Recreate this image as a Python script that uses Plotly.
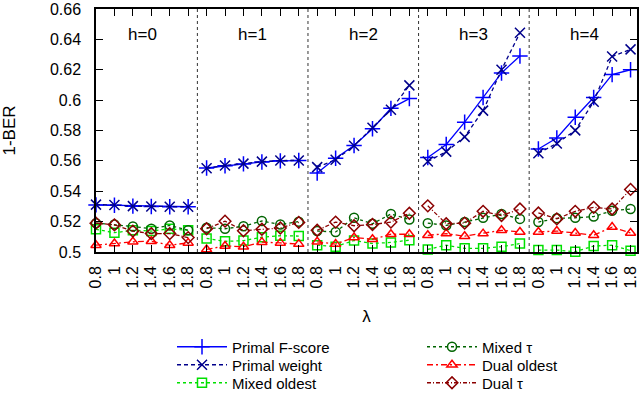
import plotly.graph_objects as go

# ---------------- data ----------------
lambdas = [0.8, 1.0, 1.2, 1.4, 1.6, 1.8]
lambda_labels = ["0.8", "1", "1.2", "1.4", "1.6", "1.8"]
h_labels = ["h=0", "h=1", "h=2", "h=3", "h=4"]

# values listed per h block (h=0..4), each block follows lambdas
primal_fscore = [
    0.5310, 0.5308, 0.5302, 0.5300, 0.5298, 0.5298,
    0.5553, 0.5568, 0.5580, 0.5593, 0.5600, 0.5602,
    0.5520, 0.5617, 0.5701, 0.5812, 0.5946, 0.6010,
    0.5622, 0.5708, 0.5855, 0.6017, 0.6179, 0.6291,
    0.5678, 0.5751, 0.5887, 0.6017, 0.6168, 0.6200,
]
primal_weight = [
    0.5312, 0.5310, 0.5302, 0.5300, 0.5298, 0.5298,
    0.5552, 0.5570, 0.5582, 0.5595, 0.5602, 0.5603,
    0.5559, 0.5607, 0.5700, 0.5818, 0.5937, 0.6097,
    0.5596, 0.5661, 0.5758, 0.5931, 0.6200, 0.6443,
    0.5650, 0.5715, 0.5801, 0.5989, 0.6287, 0.6334,
]
mixed_oldest = [
    0.5149, 0.5127, 0.5143, 0.5138, 0.5153, 0.5143,
    0.5089, 0.5070, 0.5075, 0.5097, 0.5107, 0.5105,
    0.5045, 0.5035, 0.5076, 0.5056, 0.5063, 0.5078,
    0.5017, 0.5045, 0.5024, 0.5024, 0.5035, 0.5056,
    0.5013, 0.5013, 0.5002, 0.5039, 0.5045, 0.5009,
]
mixed_tau = [
    0.5190, 0.5181, 0.5168, 0.5153, 0.5175, 0.5143,
    0.5160, 0.5153, 0.5170, 0.5204, 0.5181, 0.5200,
    0.5138, 0.5132, 0.5225, 0.5186, 0.5250, 0.5214,
    0.5190, 0.5175, 0.5197, 0.5225, 0.5250, 0.5218,
    0.5197, 0.5222, 0.5225, 0.5233, 0.5272, 0.5283,
]
dual_oldest = [
    0.5045, 0.5056, 0.5067, 0.5071, 0.5045, 0.5060,
    0.5017, 0.5040, 0.5035, 0.5065, 0.5060, 0.5052,
    0.5067, 0.5052, 0.5095, 0.5084, 0.5117, 0.5117,
    0.5110, 0.5121, 0.5104, 0.5121, 0.5143, 0.5132,
    0.5132, 0.5138, 0.5125, 0.5110, 0.5164, 0.5125,
]
dual_tau = [
    0.5190, 0.5179, 0.5138, 0.5121, 0.5121, 0.5095,
    0.5153, 0.5203, 0.5140, 0.5150, 0.5158, 0.5195,
    0.5143, 0.5197, 0.5173, 0.5181, 0.5197, 0.5255,
    0.5304, 0.5186, 0.5190, 0.5268, 0.5240, 0.5283,
    0.5257, 0.5218, 0.5268, 0.5294, 0.5283, 0.5412,
]

y_ticks = [0.5, 0.52, 0.54, 0.56, 0.58, 0.6, 0.62, 0.64, 0.66]
y_tick_labels = ["0.5", "0.52", "0.54", "0.56", "0.58", "0.6", "0.62", "0.64", "0.66"]

# ---------------- helpers ----------------
N = len(lambdas)
G = len(h_labels)


def segments(vals):
    xs, ys, cd = [], [], []
    for g in range(G):
        for j in range(N):
            xs.append(g * N + j)
            ys.append(vals[g * N + j])
            cd.append(f"{h_labels[g]}, λ={lambda_labels[j]}")
        xs.append(None)
        ys.append(None)
        cd.append(None)
    return xs, ys, cd


series = [
    # name, values, color, dash, symbol, size, legend, (col, row)
    ("Primal F-score", primal_fscore, "#0000ff", "solid", "cross-thin", 11, "legend", (0, 0)),
    ("Primal weight", primal_weight, "#00008b", "4px,3px", "x-thin", 10, "legend2", (0, 1)),
    ("Mixed oldest", mixed_oldest, "#00e000", "dot", "square-open", 9, "legend3", (0, 2)),
    ("Mixed τ", mixed_tau, "#006400", "dot", "circle-open", 9, "legend4", (1, 0)),
    ("Dual oldest", dual_oldest, "#ff0000", "6px,3px,2px,3px", "triangle-up-open", 9, "legend5", (1, 1)),
    ("Dual τ", dual_tau, "#8b0000", "4px,2px,1px,2px", "diamond-open", 9, "legend6", (1, 2)),
]

FONT = "Liberation Sans, Arial, Helvetica, sans-serif"
FS = 17
FS_TICK = 16
FS_LEG = 15

fig = go.Figure()
for name, vals, col, dash, sym, size, leg, _ in series:
    xs, ys, cd = segments(vals)
    fig.add_trace(go.Scatter(
        x=xs, y=ys, name=name, mode="lines+markers",
        line=dict(color=col, width=1.3, dash=dash),
        marker=dict(symbol=sym, size=size, color=col,
                    line=dict(color=col, width=1.5)),
        customdata=cd,
        hovertemplate="%{customdata}<br>1-BER=%{y:.4f}<extra>" + name + "</extra>",
        connectgaps=False, cliponaxis=False, legend=leg, showlegend=True,
    ))

# plot area geometry in px
L, R, T, B = 96, 3, 9, 142
W, H = 640, 394
pw = W - L - R
ph = H - T - B

legend_cols_px = [172, 422]
legend_rows_px = [347, 365, 383]
legends = {}
for name, vals, col, dash, sym, size, leg, (c, r) in series:
    legends[leg] = dict(
        x=(legend_cols_px[c] - L) / pw, xanchor="left",
        y=(T + ph - legend_rows_px[r]) / ph, yanchor="middle",
        bgcolor="rgba(0,0,0,0)", borderwidth=0,
        font=dict(family=FONT, size=FS_LEG, color="black"),
        itemwidth=50, visible=True,
    )

tickvals = [g * N + j for g in range(G) for j in range(N)]
ticktext = [lambda_labels[j] for g in range(G) for j in range(N)]

shapes = []
for g in range(1, G):
    shapes.append(dict(type="line", xref="x", yref="paper",
                       x0=g * N - 0.5, x1=g * N - 0.5, y0=0, y1=1,
                       line=dict(color="#333333", width=1, dash="dot")))

annotations = []
for g in range(G):
    annotations.append(dict(x=g * N + (N - 1) / 2, y=0.643, xref="x", yref="y",
                            text=h_labels[g], showarrow=False,
                            font=dict(family=FONT, size=FS, color="black")))

fig.update_layout(
    width=W, height=H,
    margin=dict(l=L, r=R, t=T, b=B, autoexpand=False),
    paper_bgcolor="white", plot_bgcolor="white",
    font=dict(family=FONT, size=FS, color="black"),
    showlegend=True,
    shapes=shapes, annotations=annotations,
    **legends,
)
fig.update_xaxes(
    range=[0, 29.35], tickvals=tickvals, ticktext=ticktext, tickangle=-90,
    tickfont=dict(family=FONT, size=FS_TICK),
    ticks="inside", ticklen=7, tickcolor="black", tickwidth=1,
    showline=True, linecolor="black", linewidth=1.5, mirror="allticks",
    showgrid=False, zeroline=False, automargin=False,
    ticklabelstandoff=6, ticklabeloverflow="allow",
    title=dict(text="λ", font=dict(family=FONT, size=FS), standoff=23),
)
fig.update_yaxes(
    range=[0.5, 0.66], tickvals=y_ticks, ticktext=y_tick_labels,
    tickfont=dict(family=FONT, size=FS_TICK),
    ticks="inside", ticklen=7, tickcolor="black", tickwidth=1,
    showline=True, linecolor="black", linewidth=1.5, mirror="allticks",
    showgrid=False, zeroline=False, automargin=False,
    ticklabelstandoff=10, ticklabeloverflow="allow",
    title=dict(text="1-BER", font=dict(family=FONT, size=FS), standoff=38),
)

fig.write_html("out.html",
               config={"displayModeBar": False},
               post_script="document.body.style.margin='0';document.body.style.padding='0';")
